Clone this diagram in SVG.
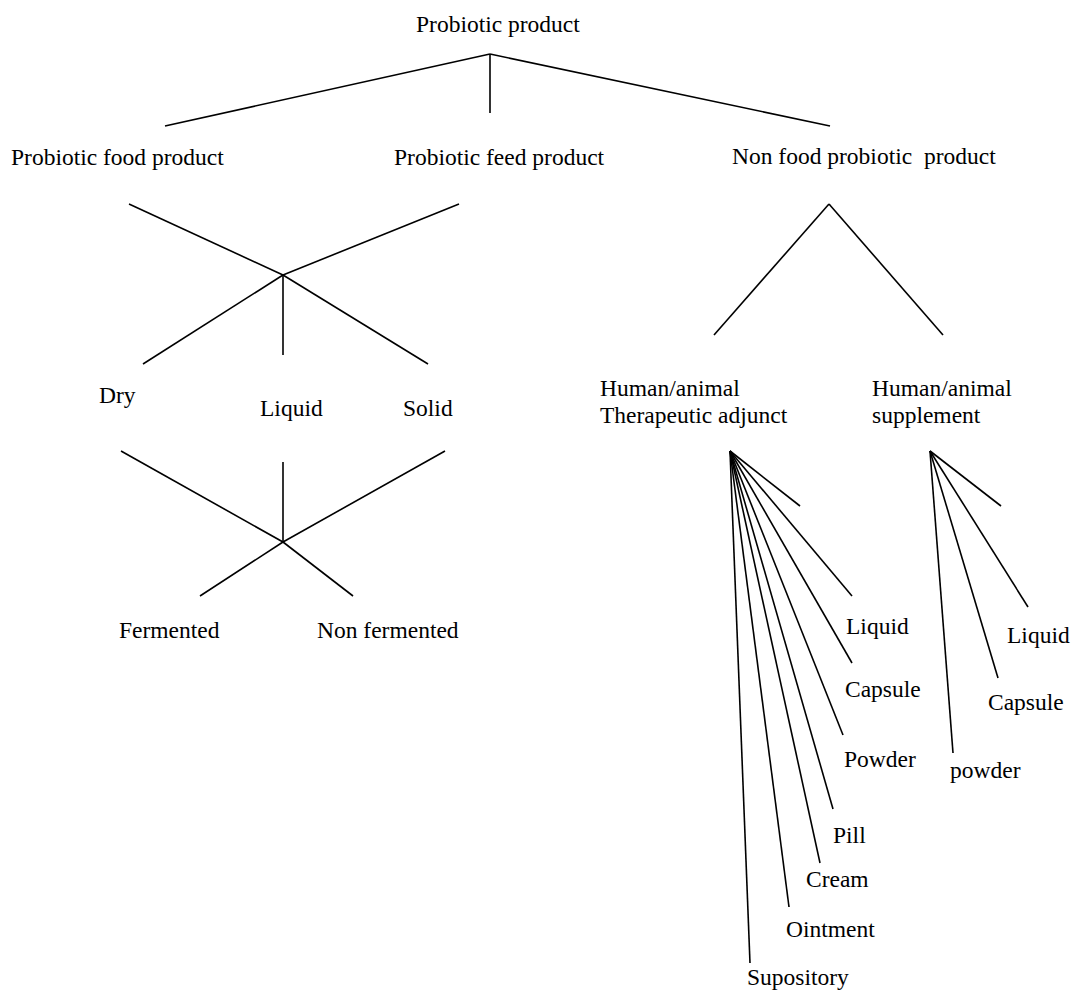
<svg xmlns="http://www.w3.org/2000/svg" width="1073" height="990" viewBox="0 0 1073 990">
<style>
text{font-family:"Liberation Serif","Times New Roman",serif;font-size:23.5px;fill:#000;white-space:pre}
line{stroke:#000;stroke-width:1.6;stroke-linecap:butt}
</style>
<rect width="1073" height="990" fill="#fff"/>
<g id="connectors">
<line x1="490" y1="54" x2="165" y2="126"/>
<line x1="490" y1="54" x2="490" y2="113"/>
<line x1="490" y1="54" x2="830" y2="126"/>
<line x1="129" y1="204" x2="283" y2="275"/>
<line x1="459" y1="204" x2="283" y2="275"/>
<line x1="283" y1="275" x2="143" y2="364"/>
<line x1="283" y1="275" x2="283" y2="355"/>
<line x1="283" y1="275" x2="428" y2="364"/>
<line x1="121" y1="451" x2="283" y2="542"/>
<line x1="445" y1="451" x2="283" y2="542"/>
<line x1="283" y1="462" x2="283" y2="542"/>
<line x1="283" y1="542" x2="200" y2="596"/>
<line x1="283" y1="542" x2="353" y2="596"/>
<line x1="829" y1="204" x2="714" y2="335"/>
<line x1="829" y1="204" x2="943" y2="335"/>
<line x1="730" y1="451" x2="800" y2="506"/>
<line x1="730" y1="451" x2="852" y2="596"/>
<line x1="730" y1="451" x2="852" y2="663"/>
<line x1="730" y1="451" x2="843" y2="735"/>
<line x1="730" y1="451" x2="833" y2="809"/>
<line x1="730" y1="451" x2="820" y2="863"/>
<line x1="730" y1="451" x2="789" y2="907"/>
<line x1="730" y1="451" x2="750" y2="963"/>
<line x1="930" y1="451" x2="1001" y2="506"/>
<line x1="930" y1="451" x2="1028" y2="607"/>
<line x1="930" y1="451" x2="998" y2="678"/>
<line x1="930" y1="451" x2="953" y2="753"/>
</g>
<g id="n-root"><text x="416" y="32">Probiotic product</text></g>
<g id="n-food"><text x="11" y="165">Probiotic food product</text></g>
<g id="n-feed"><text x="394" y="165">Probiotic feed product</text></g>
<g id="n-nonfood"><text x="732" y="164">Non food probiotic  product</text></g>
<g id="n-dry"><text x="99" y="403">Dry</text></g>
<g id="n-liquid"><text x="260" y="416">Liquid</text></g>
<g id="n-solid"><text x="403" y="416">Solid</text></g>
<g id="n-fermented"><text x="119" y="638">Fermented</text></g>
<g id="n-nonfermented"><text x="317" y="638">Non fermented</text></g>
<g id="n-therapeutic"><text x="600" y="396">Human/animal</text><text x="600" y="423">Therapeutic adjunct</text></g>
<g id="n-supplement"><text x="872" y="396">Human/animal</text><text x="872" y="423">supplement</text></g>
<g id="n-t-liquid"><text x="846" y="634">Liquid</text></g>
<g id="n-t-capsule"><text x="845" y="697">Capsule</text></g>
<g id="n-t-powder"><text x="844" y="767">Powder</text></g>
<g id="n-t-pill"><text x="833" y="843">Pill</text></g>
<g id="n-t-cream"><text x="806" y="887">Cream</text></g>
<g id="n-t-ointment"><text x="786" y="937">Ointment</text></g>
<g id="n-t-supository"><text x="747" y="985">Supository</text></g>
<g id="n-s-liquid"><text x="1007" y="643">Liquid</text></g>
<g id="n-s-capsule"><text x="988" y="710">Capsule</text></g>
<g id="n-s-powder"><text x="950" y="778">powder</text></g>
</svg>
